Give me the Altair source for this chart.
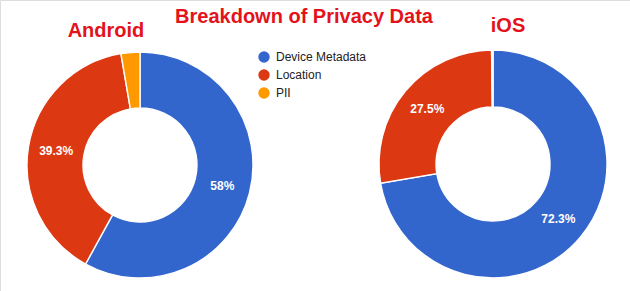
import altair as alt
import pandas as pd

categories = ["Device Metadata", "Location", "PII"]
colors = ["#3366cc", "#dc3912", "#ff9900"]
android_values = [58.0, 39.3, 2.7]
android_labels = ["58%", "39.3%", ""]
ios_values = [72.3, 27.5, 0.2]
ios_labels = ["72.3%", "27.5%", ""]

rows = []
for i, c in enumerate(categories):
    rows.append({"platform": "Android", "category": c, "value": android_values[i], "label": android_labels[i], "idx": i})
for i, c in enumerate(categories):
    rows.append({"platform": "iOS", "category": c, "value": ios_values[i], "label": ios_labels[i], "idx": i})
df = pd.DataFrame(rows)

FONT = "Liberation Sans"
TITLE_RED = "#e3121b"

color = alt.Color(
    "category:N",
    scale=alt.Scale(domain=categories, range=colors),
    legend=alt.Legend(
        title=None, orient="none", legendX=258, legendY=51,
        symbolType="circle", symbolSize=130, symbolStrokeWidth=0,
        labelFont=FONT, labelFontSize=12, labelColor="#222222",
        rowPadding=6, labelOffset=6, padding=0,
    ),
)
theta = alt.Theta("value:Q", stack=True)
order = alt.Order("idx:Q")

def donut(platform, cx, cy, r_out, r_in):
    base = alt.Chart(df).transform_filter(alt.datum.platform == platform)
    arc = base.mark_arc(radius=r_out, radius2=r_in, stroke="white", strokeWidth=1.4).encode(
        x=alt.value(cx), y=alt.value(cy), theta=theta, color=color, order=order
    )
    txt = base.mark_text(radius=(r_out + r_in) / 2, font=FONT, fontSize=12, fontWeight="bold",
                         color="white", baseline="middle", align="center").encode(
        x=alt.value(cx), y=alt.value(cy), theta=theta, text="label:N", order=order
    )
    return arc + txt

def title_text(s, x, y):
    return alt.Chart(pd.DataFrame({"t": [s]})).mark_text(
        font=FONT, fontSize=20, fontWeight="bold", color=TITLE_RED,
        align="center", baseline="alphabetic"
    ).encode(x=alt.value(x), y=alt.value(y), text="t:N")

chart = alt.layer(
    donut("Android", 140, 165, 113, 57),
    donut("iOS", 493, 164, 114, 57),
    title_text("Breakdown of Privacy Data", 304, 23),
    title_text("Android", 106, 37),
    title_text("iOS", 508, 32),
).properties(
    width=630, height=291, padding=0, autosize="none"
).configure_view(stroke=None).configure(background="white")

chart.save("out.html", embed_options={"renderer": "svg", "actions": False})
